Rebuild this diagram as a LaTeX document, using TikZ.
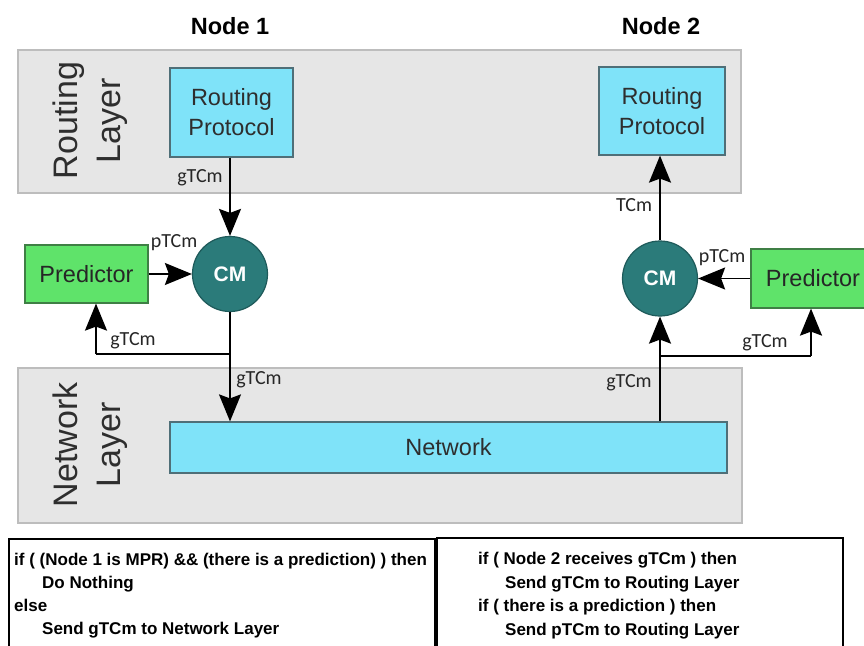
\documentclass[tikz,border=0pt]{standalone}
\usepackage{fontspec}
\setmainfont{Liberation Sans}
\newfontfamily\lblfont{Carlito}
\usetikzlibrary{arrows.meta}
\definecolor{layerfill}{HTML}{E6E6E6}
\definecolor{layerdraw}{HTML}{BDBDBD}
\definecolor{cyanfill}{HTML}{7FE3F9}
\definecolor{cyandraw}{HTML}{4F6F78}
\definecolor{greenfill}{HTML}{5FE36A}
\definecolor{greendraw}{HTML}{3F7F45}
\definecolor{tealfill}{HTML}{2B7B7A}
\definecolor{tealdraw}{HTML}{1E5A5A}
\definecolor{txtgray}{HTML}{2E2E2E}
\tikzset{
  layerbox/.style={draw=layerdraw, fill=layerfill, line width=1.2pt, inner sep=0pt},
  layertext/.style={rotate=90, align=center, text=txtgray, font=\fontsize{34}{43}\selectfont},
  cyanbox/.style={draw=cyandraw, fill=cyanfill, line width=1.2pt, inner sep=0pt, align=center, text=txtgray, font=\fontsize{23.5}{30}\selectfont},
  greenbox/.style={draw=greendraw, fill=greenfill, line width=1.2pt, inner sep=0pt, text=black!85, font=\fontsize{23.5}{28}\selectfont},
  cmnode/.style={circle, draw=tealdraw, fill=tealfill, line width=1.2pt, minimum size=75pt, inner sep=0pt, text=white, font=\fontsize{21}{24}\selectfont\bfseries},
  arr/.style={line width=1.8pt, -{Stealth[length=27pt,width=22pt,inset=4pt]}},
  plain/.style={line width=1.8pt},
  lbl/.style={inner sep=0pt, text=black!85, font=\lblfont\fontsize{20}{24}\selectfont},
  title/.style={inner sep=0pt, font=\fontsize{23.5}{28}\selectfont\bfseries},
  codebox/.style={draw=black, line width=1.2pt, fill=white},
  code/.style={anchor=base west, inner sep=0pt, font=\fontsize{17}{20}\selectfont\bfseries},
}
\begin{document}
\begin{tikzpicture}[x=1pt, y=-1pt]
\useasboundingbox (0,0) rectangle (864,645);
\clip (0,0) rectangle (864,645);
\fill[white] (0,0) rectangle (864,645);

% titles
\node[title] (t1) at (230,26) {Node 1};
\node[title] (t2) at (661,26) {Node 2};

% layers
\node[layerbox, minimum width=723pt, minimum height=143pt] (rlayer) at (379.5,121.5) {};
\node[layerbox, minimum width=724pt, minimum height=155pt] (nlayer) at (380,445.5) {};
\node[layertext] (rtext) at (90,120.5) {Routing\\Layer};
\node[layertext] (ntext) at (90,445) {Network\\Layer};

% boxes
\node[cyanbox, minimum width=123pt, minimum height=89pt] (rp1) at (231.5,112.5) {Routing\\Protocol};
\node[cyanbox, minimum width=126pt, minimum height=88pt] (rp2) at (662,111) {Routing\\Protocol};
\node[cyanbox, minimum width=557pt, minimum height=51pt] (net) at (448.5,447.5) {Network};
\node[greenbox, minimum width=123pt, minimum height=58pt] (pred1) at (86.5,274) {Predictor};
\node[greenbox, minimum width=124pt, minimum height=59pt] (pred2) at (813,278.5) {Predictor};
\node[cmnode] (cm1) at (230,274) {CM};
\node[cmnode] (cm2) at (660,278.5) {CM};

% node 1 connectors
\draw[arr] (cm1.north |- rp1.south) -- (cm1.north);
\draw[arr] (pred1.east) -- (cm1.west);
\draw[arr] (cm1.south) -- (cm1.south |- net.north);
\coordinate (br1) at (230,354);
\draw[plain] (br1) -- (96,354);
\draw[arr] (96,354) -- ([xshift=9.5pt]pred1.south);

% node 2 connectors
\draw[arr] (cm2.north) -- (cm2.north |- rp2.south);
\draw[arr] (pred2.west) -- (cm2.east);
\draw[arr] (cm2.south |- net.north) -- (cm2.south);
\coordinate (br2) at (660,356);
\draw[plain] (br2) -- (811,356);
\draw[arr] (811,356) -- ([xshift=-2pt]pred2.south);

% labels
\node[lbl] (l1) at (200,178) {gTCm};
\node[lbl] (l2) at (174,243) {pTCm};
\node[lbl] (l3) at (133,341) {gTCm};
\node[lbl] (l4) at (259,380) {gTCm};
\node[lbl] (l5) at (634,205) {TCm};
\node[lbl] (l6) at (722,258) {pTCm};
\node[lbl] (l7) at (629,383) {gTCm};
\node[lbl] (l8) at (765,343) {gTCm};

% code boxes
\draw[codebox] (9,539) rectangle (435,660);
\draw[codebox] (437,538) rectangle (843,660);
\node[code] (c1) at (14,565) {if ( (Node 1 is MPR) \&\& (there is a prediction) ) then};
\node[code] (c2) at (42,588) {Do Nothing};
\node[code] (c3) at (14,611) {else};
\node[code] (c4) at (42,634) {Send gTCm to Network Layer};
\node[code] (d1) at (478,564) {if ( Node 2 receives gTCm ) then};
\node[code] (d2) at (505,588) {Send gTCm to Routing Layer};
\node[code] (d3) at (478,611) {if ( there is a prediction ) then};
\node[code] (d4) at (505,635) {Send pTCm to Routing Layer};
\end{tikzpicture}
\end{document}
